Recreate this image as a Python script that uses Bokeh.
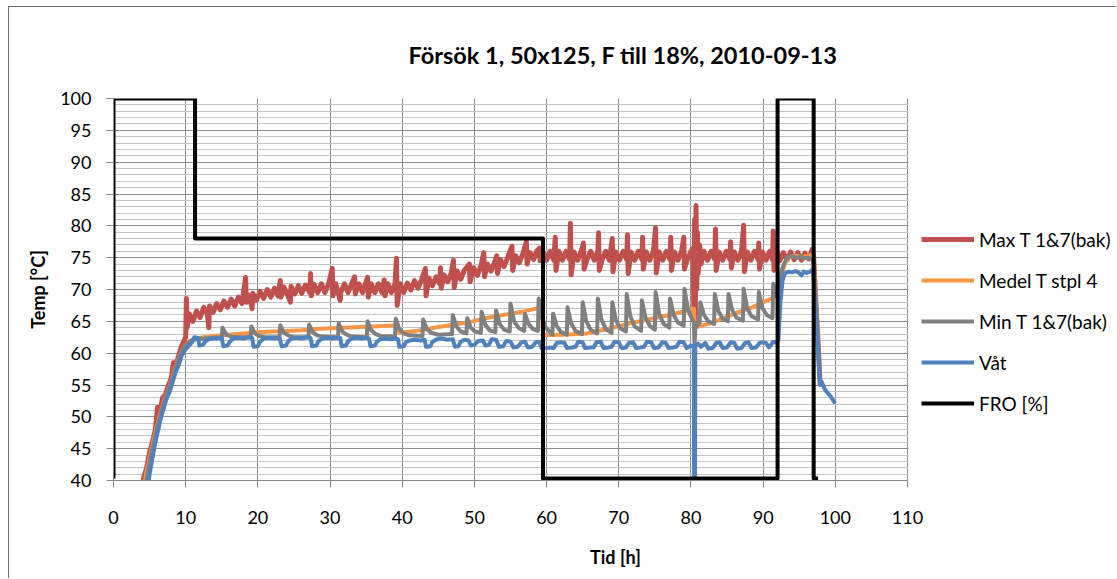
from bokeh.plotting import figure
from bokeh.models import Legend, LegendItem, SingleIntervalTicker, Range1d, BoxAnnotation
from bokeh.embed import file_html
from bokeh.resources import INLINE

TITLE = "Försök 1, 50x125, F till 18%, 2010-09-13"
X_LABEL = "Tid [h]"
Y_LABEL = "Temp [°C]"
SERIES_NAMES = ["Max T 1&7(bak)", "Medel T stpl 4", "Min T 1&7(bak)", "Våt", "FRO [%]"]

# ---- Max T 1&7(bak) ----
max_x = [
    3.9, 4.2, 4.6, 5.0, 5.4, 5.8, 6.1, 6.4, 6.8, 7.2,
    7.6, 8.0, 8.3, 8.6, 9.0, 9.4, 9.8, 10.0, 10.1, 10.2,
    10.5, 11.0, 11.5, 12.0, 12.5, 13.0, 13.2, 13.3, 13.8, 14.3,
    14.8, 15.3, 15.8, 16.3, 16.8, 17.3, 17.8, 18.3, 18.4, 18.8,
    19.2, 19.3, 19.8, 20.3, 20.8, 21.3, 21.8, 22.3, 22.8, 23.1,
    23.2, 23.6, 24.1, 24.5, 24.6, 25.1, 25.6, 26.1, 26.6, 27.2,
    27.3, 27.4, 27.8, 28.3, 28.8, 29.3, 29.8, 30.3, 30.4, 30.8,
    31.4, 31.5, 32.0, 32.5, 33.0, 33.4, 33.5, 34.0, 34.5, 35.2,
    35.3, 35.7, 36.2, 36.7, 37.2, 37.5, 37.6, 38.0, 38.5, 39.0,
    39.2, 39.3, 39.7, 40.2, 40.7, 41.2, 41.7, 42.2, 42.7, 43.2,
    43.3, 43.7, 44.2, 44.7, 45.2, 45.3, 45.4, 45.8, 46.3, 46.8,
    47.1, 47.2, 47.6, 48.1, 48.6, 49.3, 49.4, 49.9, 50.4, 50.9,
    51.3, 51.4, 51.8, 52.3, 52.8, 53.1, 53.2, 53.6, 54.1, 54.6,
    55.2, 55.3, 55.7, 56.2, 56.7, 57.2, 57.3, 57.7, 58.2, 58.6,
    59.0, 59.1, 59.5, 60.0, 60.5, 61.0, 61.2, 61.3, 61.7, 62.2,
    62.7, 63.2, 63.3, 63.4, 63.8, 64.3, 64.8, 65.1, 65.2, 65.6,
    66.1, 66.6, 67.1, 67.2, 67.3, 67.7, 68.2, 68.7, 69.1, 69.2,
    69.6, 70.1, 70.6, 71.1, 71.2, 71.3, 71.7, 72.2, 72.7, 73.2,
    73.3, 73.4, 73.8, 74.3, 74.8, 75.1, 75.2, 75.6, 76.1, 76.6,
    77.1, 77.2, 77.3, 77.7, 78.2, 78.7, 79.0, 79.1, 79.5, 80.0,
    80.3, 80.4, 80.5, 80.6, 80.7, 80.8, 80.9, 81.0, 81.2, 81.4,
    81.8, 82.3, 82.8, 83.3, 83.4, 83.5, 83.9, 84.4, 84.9, 85.4,
    85.5, 85.6, 86.0, 86.5, 87.0, 87.3, 87.4, 87.8, 88.3, 88.8,
    89.3, 89.4, 89.5, 89.9, 90.4, 90.9, 91.3, 91.4, 91.5, 91.9,
    92.3, 92.8, 93.3, 93.8, 94.3, 94.8, 95.3, 95.8, 96.3, 96.8,
    97.0, 97.3, 97.6, 97.9,
]
max_y = [
    37, 40.5, 42, 44.5, 46, 48, 51.5, 50.5, 53, 53.5,
    55, 56, 58.5, 58, 59.5, 61, 62, 62.5, 68.6, 64,
    66.2, 65.0, 66.6, 65.6, 67.2, 66.2, 64, 67.4, 66.4, 67.8,
    66.8, 68.2, 67.2, 68.5, 67.4, 68.8, 67.8, 71.9, 68, 69.1,
    67, 69.4, 68.3, 69.7, 68.6, 70, 68.8, 70.2, 69, 71.4,
    68.8, 70.4, 69.2, 68, 70.5, 69.3, 70.6, 69.4, 70.7, 69.5,
    72.5, 69, 70.8, 69.5, 70.9, 69.5, 70.9, 73.3, 69, 70.9,
    68.3, 69.6, 70.9, 69.5, 70.9, 72, 69.3, 70.9, 69.5, 71.9,
    68.8, 70.9, 69.5, 70.9, 69.5, 71.5, 69, 70.9, 69.5, 70.9,
    74.9, 67.5, 70.9, 69.5, 71.0, 69.9, 71.4, 70.2, 71.6, 73.3,
    69, 71.8, 70.6, 72.0, 70.9, 73.4, 70.2, 72.3, 71.2, 72.6,
    74.6, 70.3, 72.9, 71.6, 73.0, 74.0, 71.2, 73.4, 72.2, 73.7,
    75.8, 72, 74.0, 72.9, 74.3, 75.3, 72.5, 74.7, 73.6, 75.0,
    76.8, 73, 75.3, 74.2, 75.6, 77.5, 74, 75.8, 74.7, 76.0,
    76.5, 74.5, 75.9, 74.6, 76.0, 74.6, 78.2, 73, 76.0, 74.6,
    76.0, 74.7, 80.4, 72.3, 75.9, 74.6, 76.0, 77.3, 73.2, 74.7,
    76.0, 74.6, 76.0, 78.9, 73, 74.7, 76.0, 74.6, 78, 72.8,
    75.9, 74.6, 76.0, 74.7, 78.6, 72.5, 75.9, 74.6, 76.0, 74.7,
    78.2, 73.2, 75.9, 74.6, 76.0, 79.7, 72.6, 75.9, 74.6, 76.0,
    74.7, 78.2, 73, 75.9, 74.6, 76.0, 78.2, 73.2, 74.7, 76.0,
    76.5, 66, 81, 64, 83.2, 70, 79, 72.5, 77, 74,
    76.0, 74.6, 76.0, 74.7, 79.5, 73, 75.9, 74.6, 76.0, 74.7,
    77.5, 73.4, 75.9, 74.6, 76.0, 80.1, 72.8, 75.9, 74.6, 76.0,
    74.7, 77.3, 73.2, 75.9, 74.6, 76.0, 74.7, 79.2, 73, 75.9,
    74.5, 75.8, 74.6, 75.9, 74.7, 75.8, 74.6, 75.7, 74.8, 76.3,
    75, 68, 62, 55,
]

# ---- Medel T stpl 4 ----
med_x = [
    4.0, 4.5, 5.0, 5.5, 6.0, 6.5, 7.0, 7.5, 8.0, 8.5,
    9.0, 9.5, 10.0, 10.5, 11.5, 12.5, 14.0, 16.0, 18.0, 20.0,
    22.0, 24.0, 26.0, 28.0, 30.0, 32.0, 34.0, 36.0, 38.0, 39.4,
    39.6, 42.0, 45.0, 49.0, 52.0, 55.0, 57.0, 59.3, 59.5, 62.0,
    65.5, 68.5, 71.6, 74.5, 77.0, 79.5, 80.4, 80.5, 83.0, 86.0,
    88.5, 91.4, 92.0, 92.5, 93.0, 93.5, 94.5, 95.5, 96.5, 97.0,
    97.4, 97.9,
]
med_y = [
    37, 41, 43.5, 46, 48.5, 50.5, 52.5, 54, 55.5, 57.5,
    59, 60.5, 61.3, 61.9, 62.3, 62.5, 62.7, 62.9, 63.1, 63.3,
    63.4, 63.5, 63.6, 63.8, 63.9, 64.0, 64.1, 64.2, 64.3, 64.4,
    63.2, 63.5, 64.1, 64.8, 65.6, 66.2, 66.6, 67.2, 62.8, 62.9,
    63.1, 63.8, 64.7, 65.4, 66.0, 66.7, 67.0, 64.0, 64.8, 66.2,
    67.2, 68.7, 69.2, 72.0, 74.0, 75.0, 75.3, 75.1, 75.4, 75.2,
    66.0, 55.0,
]

# ---- Min T 1&7(bak) ----
min_x = [
    4.2, 4.7, 5.2, 5.7, 6.2, 6.7, 7.2, 7.7, 8.2, 8.7,
    9.2, 9.7, 10.2, 10.8, 11.5, 12.5, 13.5, 15.0, 15.1, 15.6,
    16.2, 17.0, 19.0, 19.1, 19.6, 20.2, 21.0, 23.0, 23.1, 23.6,
    24.2, 25.0, 27.0, 27.1, 27.6, 28.2, 29.0, 31.1, 31.2, 31.7,
    32.3, 33.0, 35.1, 35.2, 35.7, 36.3, 37.0, 39.0, 39.1, 39.6,
    40.2, 41.0, 42.8, 42.9, 43.4, 44.0, 45.0, 46.9, 47.0, 47.5,
    48.1, 48.9, 49.0, 49.5, 50.1, 50.9, 51.0, 51.5, 52.1, 52.9,
    53.0, 53.5, 54.1, 54.9, 55.0, 55.5, 56.1, 56.9, 57.0, 57.5,
    58.1, 58.8, 58.9, 59.4, 59.9, 60.8, 60.9, 61.4, 62.0, 62.8,
    62.9, 63.4, 64.0, 64.9, 65.0, 65.5, 66.1, 67.0, 67.1, 67.6,
    68.2, 69.0, 69.1, 69.6, 70.2, 71.0, 71.1, 71.6, 72.2, 73.1,
    73.2, 73.7, 74.3, 75.0, 75.1, 75.6, 76.2, 77.0, 77.1, 77.6,
    78.2, 79.0, 79.1, 79.6, 80.2, 80.4, 80.5, 80.6, 81.2, 81.3,
    81.8, 82.4, 83.2, 83.3, 83.8, 84.4, 85.1, 85.2, 85.7, 86.3,
    87.2, 87.3, 87.8, 88.4, 89.3, 89.4, 89.9, 90.5, 91.3, 91.4,
    91.9, 92.3, 92.7, 93.2, 93.7, 94.2, 94.7, 95.2, 95.7, 96.2,
    96.7, 97.0, 97.4, 97.9,
]
min_y = [
    37, 41, 44, 46.5, 49, 51, 53, 54.5, 56, 58,
    59.5, 60.8, 61.5, 62.0, 62.2, 62.3, 62.4, 62.5, 64.0, 63.0,
    62.6, 62.5, 62.5, 64.2, 63.1, 62.7, 62.5, 62.5, 64.4, 63.2,
    62.8, 62.5, 62.5, 64.5, 63.3, 62.8, 62.6, 62.5, 64.7, 63.4,
    62.9, 62.6, 62.5, 65.0, 63.6, 63.0, 62.7, 62.6, 65.4, 63.8,
    63.1, 62.8, 62.7, 65.3, 63.8, 63.2, 62.9, 63.0, 66.0, 64.2,
    63.4, 63.1, 65.5, 64.0, 63.4, 63.2, 66.5, 64.5, 63.6, 63.3,
    66.7, 64.6, 63.7, 63.4, 67.8, 65.0, 64.0, 63.5, 66.2, 64.6,
    63.8, 63.5, 68.6, 65.5, 64.0, 62.9, 66.2, 64.3, 63.3, 62.9,
    67.2, 64.7, 63.5, 63.0, 68.0, 65.0, 63.7, 63.1, 68.6, 65.3,
    63.8, 63.2, 68.0, 65.2, 63.9, 63.4, 69.3, 65.8, 64.2, 63.5,
    68.3, 65.6, 64.3, 63.7, 69.6, 66.2, 64.6, 64.0, 68.6, 66.0,
    64.8, 64.3, 70.1, 66.8, 65.2, 64.8, 61.0, 64.0, 64.8, 68.0,
    66.0, 65.0, 64.6, 69.3, 66.6, 65.4, 65.0, 69.3, 66.8, 65.6,
    65.1, 70.1, 67.0, 65.8, 65.3, 69.6, 67.1, 66.0, 65.5, 70.9,
    69.0, 71.5, 73.5, 74.8, 75.3, 75.1, 75.0, 75.2, 74.9, 75.0,
    74.8, 74.5, 66.0, 55.0,
]

# ---- Våt ----
vat_x = [
    4.6, 5.0, 5.4, 5.8, 6.2, 6.6, 7.0, 7.4, 7.8, 8.2,
    8.6, 9.0, 9.4, 9.8, 10.3, 10.8, 11.2, 11.7, 11.9, 12.4,
    12.7, 13.2, 13.8, 14.4, 15.0, 15.2, 15.8, 16.1, 16.6, 17.3,
    18.0, 18.6, 19.2, 19.4, 20.0, 20.3, 20.8, 21.5, 22.2, 23.0,
    23.3, 23.9, 24.2, 24.7, 25.4, 26.1, 26.8, 27.3, 27.5, 28.1,
    28.4, 28.9, 29.6, 30.3, 31.0, 31.4, 31.6, 32.2, 32.5, 33.0,
    33.7, 34.4, 35.1, 35.4, 35.6, 36.2, 36.5, 37.0, 37.7, 38.4,
    39.1, 39.4, 39.6, 40.2, 40.5, 41.0, 41.8, 42.5, 43.1, 43.3,
    43.9, 44.2, 44.8, 45.5, 46.2, 47.0, 47.3, 47.8, 48.1, 48.6,
    49.2, 49.5, 50.0, 50.5, 51.2, 51.5, 52.0, 52.4, 53.0, 53.4,
    54.0, 54.4, 55.0, 55.4, 56.0, 56.5, 57.0, 57.4, 58.0, 58.5,
    59.0, 59.3, 60.0, 60.5, 61.0, 61.4, 62.0, 62.5, 62.8, 63.5,
    64.0, 64.4, 65.0, 65.3, 66.0, 66.5, 66.9, 67.5, 67.9, 68.5,
    69.0, 69.4, 70.0, 70.4, 71.0, 71.4, 72.0, 72.4, 73.0, 73.5,
    73.9, 74.5, 74.9, 75.5, 76.0, 76.5, 76.9, 77.5, 78.0, 78.4,
    79.0, 79.4, 80.0, 80.4, 80.45, 80.55, 80.6, 81.0, 81.4, 82.0,
    82.4, 83.0, 83.5, 84.0, 84.4, 85.0, 85.5, 86.0, 86.4, 87.0,
    87.5, 88.0, 88.4, 89.0, 89.5, 90.0, 90.4, 90.8, 91.4, 91.9,
    92.1, 92.4, 92.7, 93.0, 93.5, 94.0, 94.5, 95.0, 95.3, 95.6,
    96.0, 96.5, 96.9, 97.2, 97.5, 97.9, 98.1, 98.3, 98.6, 98.9,
    99.3, 99.7, 100.0,
]
vat_y = [
    37, 41, 43.5, 46, 48, 50, 51.5, 53, 54, 55.5,
    57, 58, 59.5, 60.3, 61.0, 61.6, 62.5, 62.4, 61.2, 61.3,
    61.8, 62.2, 62.3, 62.3, 62.4, 61.1, 61.2, 61.8, 62.3, 62.4,
    62.3, 62.5, 62.4, 61.0, 61.1, 61.8, 62.3, 62.4, 62.3, 62.4,
    61.1, 61.2, 61.9, 62.3, 62.4, 62.3, 62.5, 62.4, 61.1, 61.2,
    61.9, 62.3, 62.4, 62.3, 62.4, 62.4, 61.1, 61.2, 61.9, 62.3,
    62.4, 62.3, 62.4, 62.3, 61.1, 61.2, 61.8, 62.2, 62.3, 62.2,
    62.3, 62.2, 61.0, 61.1, 61.7, 62.0, 62.1, 62.0, 62.1, 61.0,
    61.1, 61.8, 62.2, 62.3, 62.1, 62.2, 61.0, 61.1, 61.8, 62.1,
    62.0, 61.2, 61.3, 61.9, 62.0, 61.2, 61.3, 62.2, 62.1, 61.0,
    61.1, 61.9, 61.8, 60.9, 61.0, 61.7, 61.8, 60.9, 61.0, 61.7,
    61.8, 60.8, 60.8, 60.9, 60.8, 61.6, 61.7, 61.6, 60.8, 60.9,
    61.0, 61.8, 61.7, 60.8, 60.9, 60.9, 61.7, 61.8, 60.8, 60.9,
    61.0, 61.8, 61.7, 60.8, 60.9, 61.6, 61.7, 60.8, 60.9, 61.0,
    61.8, 61.7, 60.8, 60.9, 61.7, 61.6, 60.8, 60.9, 61.0, 61.8,
    61.7, 60.8, 61.2, 61.0, 30.0, 30.0, 61.2, 61.5, 61.0, 61.6,
    60.7, 60.8, 61.6, 61.7, 60.8, 60.9, 61.7, 61.6, 60.7, 60.8,
    61.6, 61.7, 60.8, 60.9, 61.6, 61.7, 61.6, 60.9, 61.8, 61.6,
    62.0, 68.0, 71.5, 72.5, 72.8, 72.7, 72.9, 72.6, 72.2, 72.8,
    72.6, 72.8, 73.2, 68.0, 63.0, 55.0, 55.5, 55.0, 54.2, 53.8,
    53.3, 52.6, 52.1,
]

# ---- FRO [%] ----
fro_x = [0.0, 0.0, 11.3, 11.3, 59.5, 59.5, 92.0, 92.0, 97.0, 97.0, 97.6]
fro_y = [40.3, 100, 100, 78, 78, 40.3, 40.3, 100, 100, 40.3, 40.3]

X_MIN, X_MAX = 0, 110
Y_MIN, Y_MAX = 40, 100
X_TICK_STEP = 10
Y_TICK_STEP = 5

COLORS = ["#C0504D", "#F79646", "#808080", "#4F81BD", "#000000"]
FONT = "Lato"

# The frame runs to the right edge of the canvas (so the legend, drawn inside
# the frame, is not clipped); the part right of X_MAX is blanked out below.
FRAME_PX_PER_UNIT = 794 / (X_MAX - X_MIN)
x_view_end = X_MAX + 210 / FRAME_PX_PER_UNIT

# figure sits at (8, 6) inside the page so that its left/top CSS border
# draws the chart's outer frame line
p = figure(width=1108, height=572, x_range=Range1d(X_MIN, x_view_end),
           y_range=Range1d(Y_MIN, Y_MAX),
           output_backend="svg", toolbar_location=None,
           min_border_left=104, min_border_right=0, min_border_top=91,
           min_border_bottom=99,
           margin=(6, 0, 0, 8),
           styles={"border-left": "1px solid #6e6e6e", "border-top": "1px solid #6e6e6e"})
p.outline_line_color = None
p.background_fill_color = "white"
p.border_fill_color = "white"

p.title.text = TITLE
p.title.text_font = FONT
p.title.text_font_style = "bold"
p.title.text_font_size = "23.5px"
p.title.text_color = "#000000"
p.title.align = "left"
p.title.offset = 295
p.title.standoff = 60

p.xaxis.ticker = SingleIntervalTicker(interval=X_TICK_STEP, num_minor_ticks=0)
p.yaxis.ticker = SingleIntervalTicker(interval=Y_TICK_STEP, num_minor_ticks=5)
p.xaxis.bounds = (X_MIN, X_MAX)
p.xgrid.grid_line_color = "#8c8c8c"
p.ygrid.grid_line_color = "#8c8c8c"
p.ygrid.minor_grid_line_color = "#c4c4c4"

for ax in (p.xaxis[0], p.yaxis[0]):
    ax.axis_line_color = "#868686"
    ax.major_tick_line_color = "#868686"
    ax.major_tick_out = 7
    ax.major_tick_in = 0
    ax.minor_tick_out = 0
    ax.minor_tick_in = 0
    ax.major_label_text_font = FONT
    ax.major_label_text_font_size = "18px"
    ax.major_label_text_color = "#000000"
    ax.axis_label_text_font = FONT
    ax.axis_label_text_font_style = "bold"
    ax.axis_label_text_font_size = "18px"
    ax.axis_label_text_color = "#000000"

p.xaxis.axis_label = X_LABEL
p.yaxis.axis_label = Y_LABEL
p.xaxis.major_label_standoff = 23
p.xaxis.axis_label_standoff = 19
p.yaxis.major_label_standoff = 15
p.yaxis.axis_label_standoff = 8

series = [(max_x, max_y, 5), (med_x, med_y, 4), (min_x, min_y, 4),
          (vat_x, vat_y, 4), (fro_x, fro_y, 4)]
renderers = []
for (xs, ys, lw), col in zip(series, COLORS):
    r = p.line(xs, ys, line_color=col, line_width=lw, line_join="round")
    renderers.append(r)

# blank out the gridlines to the right of the plot area
blank = BoxAnnotation(left=X_MAX + 0.12, fill_color="white", fill_alpha=1.0,
                      line_alpha=0)
p.add_layout(blank)

legend = Legend(items=[LegendItem(label=n, renderers=[r]) for n, r in zip(SERIES_NAMES, renderers)],
                location=(808, 65))
legend.label_text_font = FONT
legend.label_text_font_size = "19px"
legend.label_text_color = "#000000"
legend.glyph_width = 53
legend.glyph_height = 24
legend.label_height = 24
legend.spacing = 17
legend.padding = 0
legend.margin = 0
legend.label_standoff = 5
legend.border_line_color = None
legend.background_fill_alpha = 0
p.add_layout(legend)

open("out.html", "w").write(file_html(p, INLINE))
